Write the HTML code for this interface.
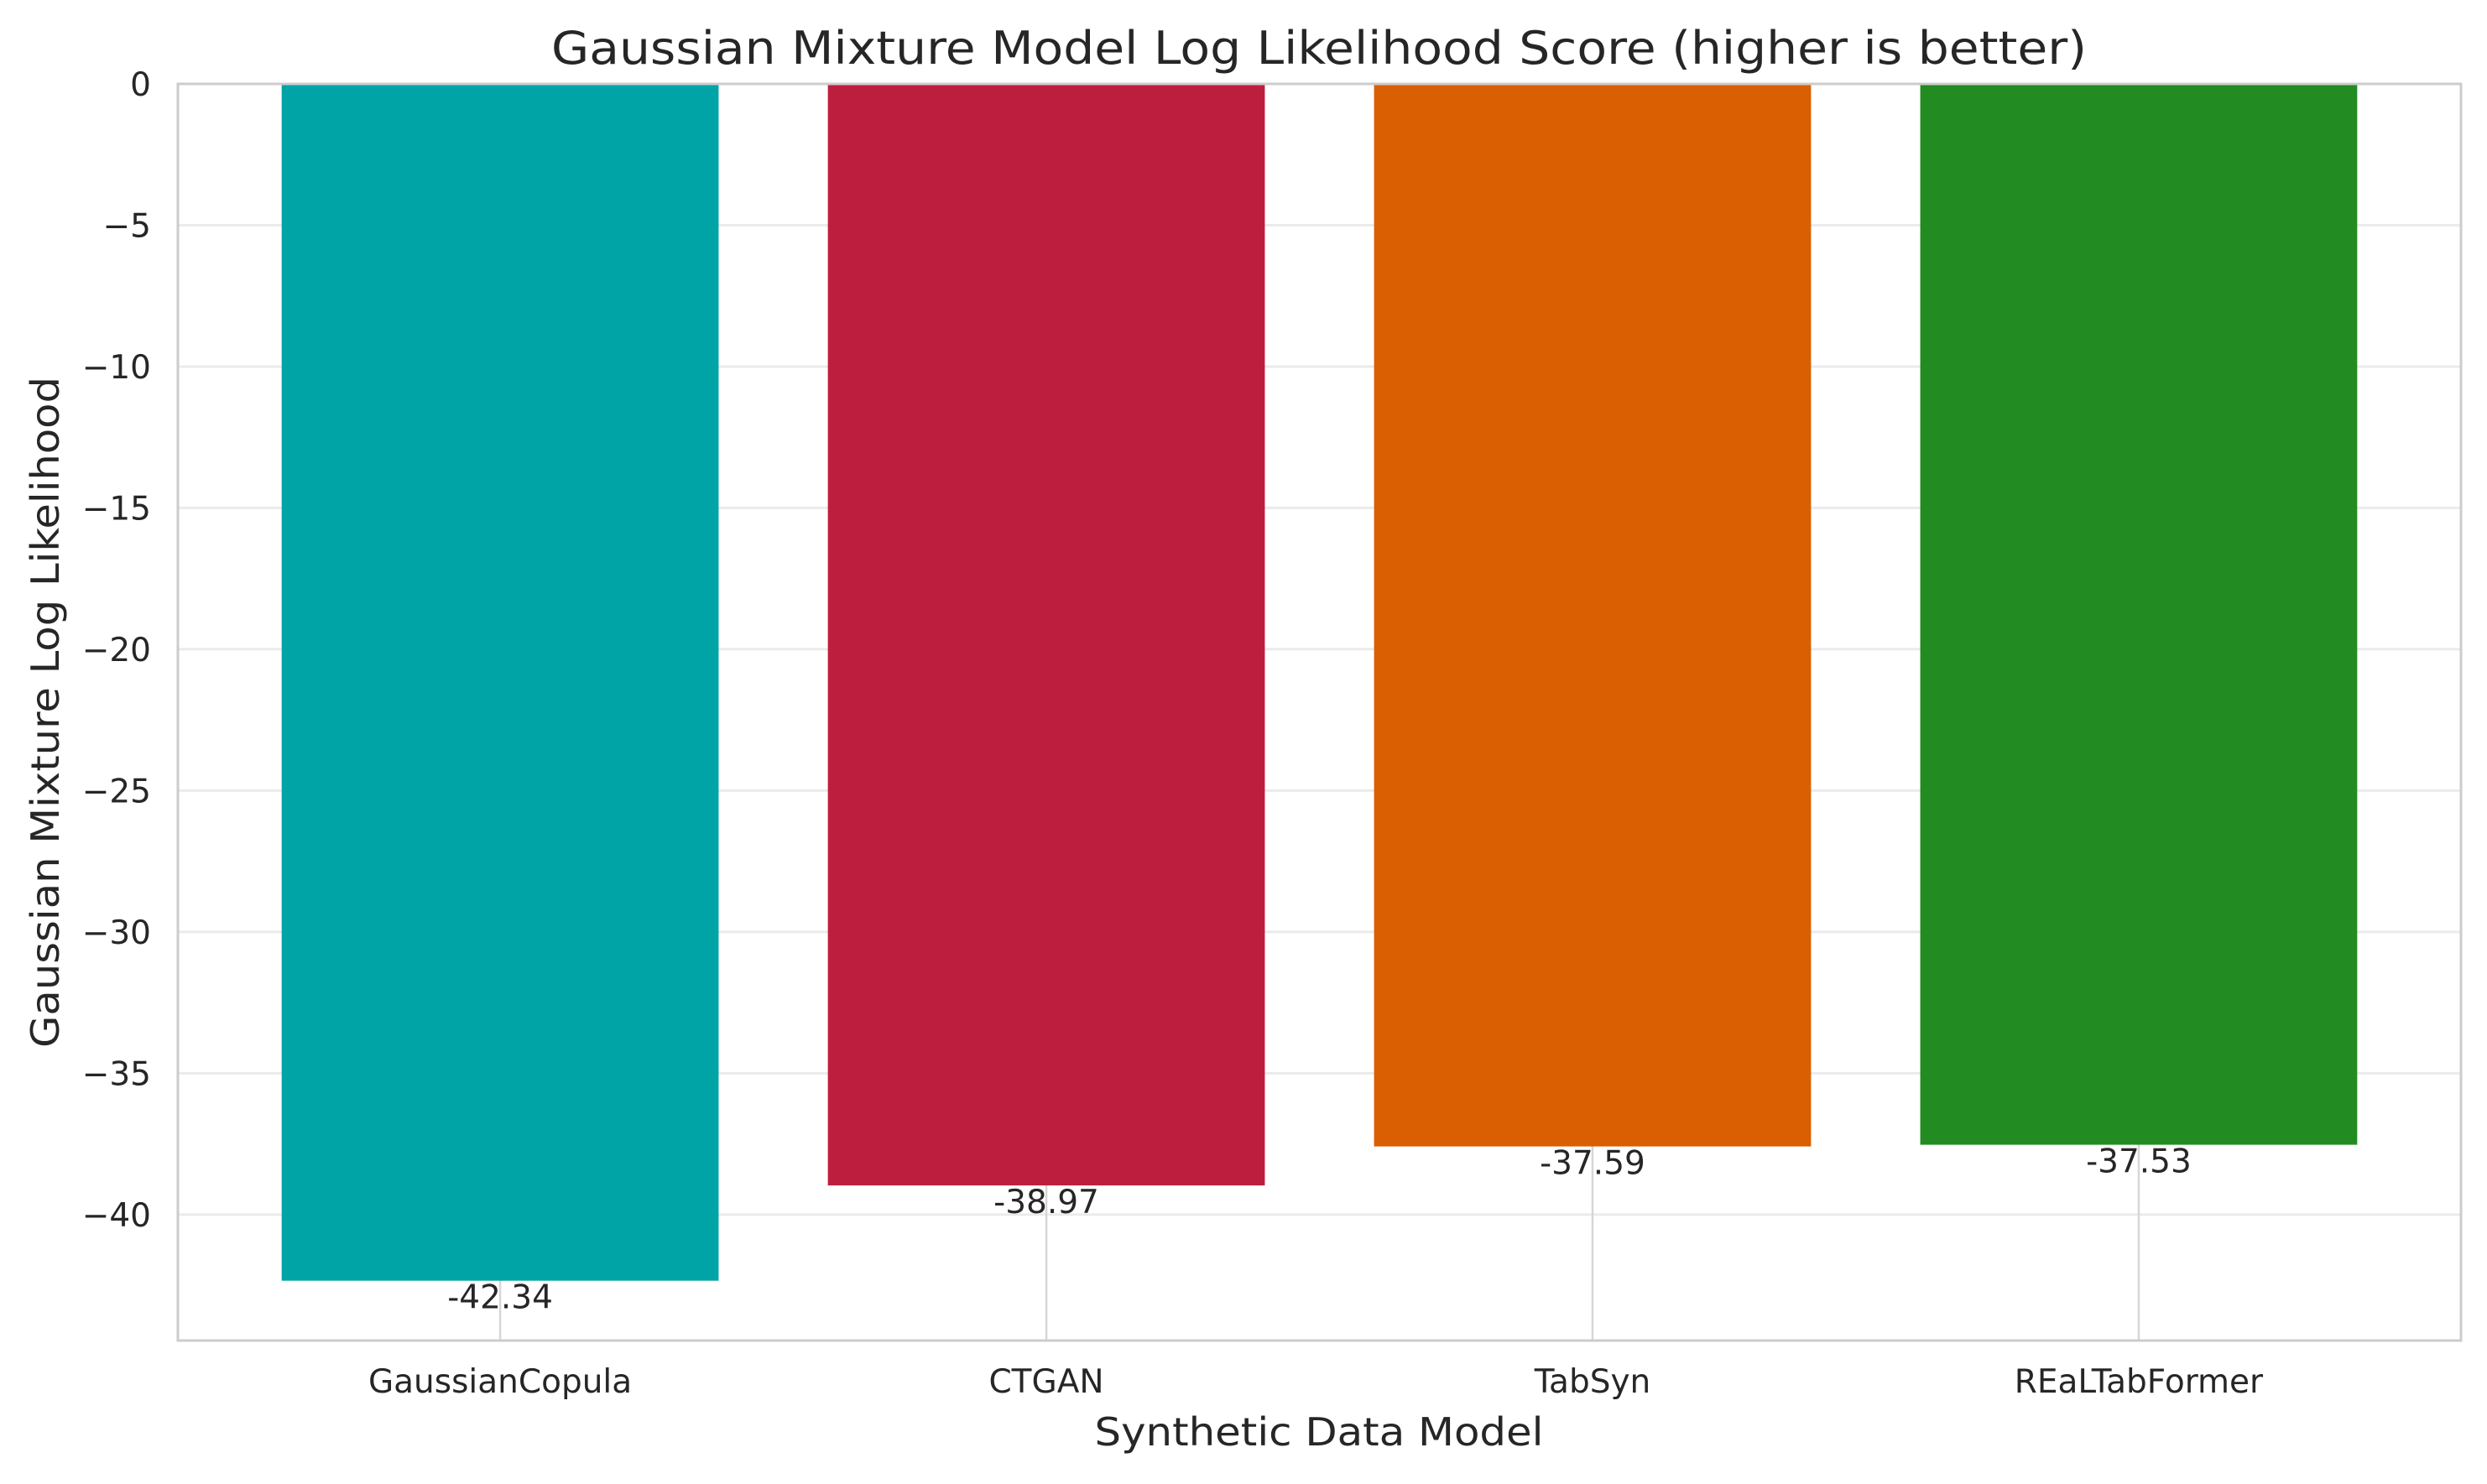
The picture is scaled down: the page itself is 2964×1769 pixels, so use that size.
<!DOCTYPE html>
<html><head><meta charset="utf-8"><style>
html,body{margin:0;padding:0;background:#fff;}
svg text{font-family:"DejaVu Sans","Liberation Sans",sans-serif;fill:#262626;}
</style></head><body>
<svg id="chart" width="2964" height="1764" viewBox="0 0 2964 1764" xmlns="http://www.w3.org/2000/svg">
<rect x="0" y="0" width="2964" height="1764" fill="#fff"/>
<g id="grid"></g><g id="bars"></g><g id="labels"></g>
<rect x="212" y="100" width="2721" height="1498" fill="none" stroke="#cccccc" stroke-width="3"/>
<g id="ticks"></g>
<text x="1572" y="76" text-anchor="middle" font-size="54" textLength="1830" lengthAdjust="spacingAndGlyphs">Gaussian Mixture Model Log Likelihood Score (higher is better)</text>
<text x="1572" y="1723" text-anchor="middle" font-size="46" textLength="535" lengthAdjust="spacingAndGlyphs">Synthetic Data Model</text>
<text x="0" y="0" transform="translate(70,849) rotate(-90)" text-anchor="middle" font-size="46" textLength="800" lengthAdjust="spacingAndGlyphs">Gaussian Mixture Log Likelihood</text>
</svg>
<script>
const categories = ["GaussianCopula", "CTGAN", "TabSyn", "REaLTabFormer"];
const values = [-42.34, -38.97, -37.59, -37.53];
const colors = ["#00A3A6", "#BE1E3E", "#D95F02", "#228B22"];
const yTicks = [0, -5, -10, -15, -20, -25, -30, -35, -40];
const yTickLabels = ["0", "\u22125", "\u221210", "\u221215", "\u221220", "\u221225", "\u221230", "\u221235", "\u221240"];
const valueLabels = ["-42.34", "-38.97", "-37.59", "-37.53"];

const NS = "http://www.w3.org/2000/svg";
const axL = 212, axR = 2933, axT = 100, axB = 1598;
const yMax = 0;
const yMin = Math.min(...values) * 1.05;
const xMin = -0.59, xMax = categories.length - 1 + 0.59;
function xS(i){ return axL + (i - xMin) / (xMax - xMin) * (axR - axL); }
function yS(v){ return axT + (yMax - v) / (yMax - yMin) * (axB - axT); }
function mk(tag, attrs, parent){ const e = document.createElementNS(NS, tag); for (const k in attrs) e.setAttribute(k, attrs[k]); parent.appendChild(e); return e; }
const grid = document.getElementById("grid"), bars = document.getElementById("bars"), labels = document.getElementById("labels"), ticks = document.getElementById("ticks");

yTicks.forEach((t, i) => {
  const y = yS(t);
  const g = mk("line", {x1: axL, x2: axR, y1: y, y2: y, stroke: "#ebebeb", "stroke-width": 3}, grid);
  
  
  const tx = mk("text", {x: 180, y: y + 14, "text-anchor": "end", "font-size": 39}, ticks);
  tx.textContent = yTickLabels[i];
  
  
});
categories.forEach((c, i) => {
  const x = xS(i);
  const g = mk("line", {x1: x, x2: x, y1: axT, y2: axB, stroke: "#d6d6d6", "stroke-width": 2.5}, grid);
  
  
  const w = 0.8 / (xMax - xMin) * (axR - axL);
  const b = mk("rect", {x: x - w / 2, y: yS(0), width: w, height: yS(values[i]) - yS(0), fill: colors[i]}, bars);
  
  
  const vl = mk("text", {x: x, y: yS(values[i]) + 33, "text-anchor": "middle", "font-size": 39}, labels);
  vl.textContent = valueLabels[i];
  
  
  const tl = mk("text", {x: x, y: 1660, "text-anchor": "middle", "font-size": 39}, ticks);
  tl.textContent = c;
  
  
});
</script>
</body></html>
